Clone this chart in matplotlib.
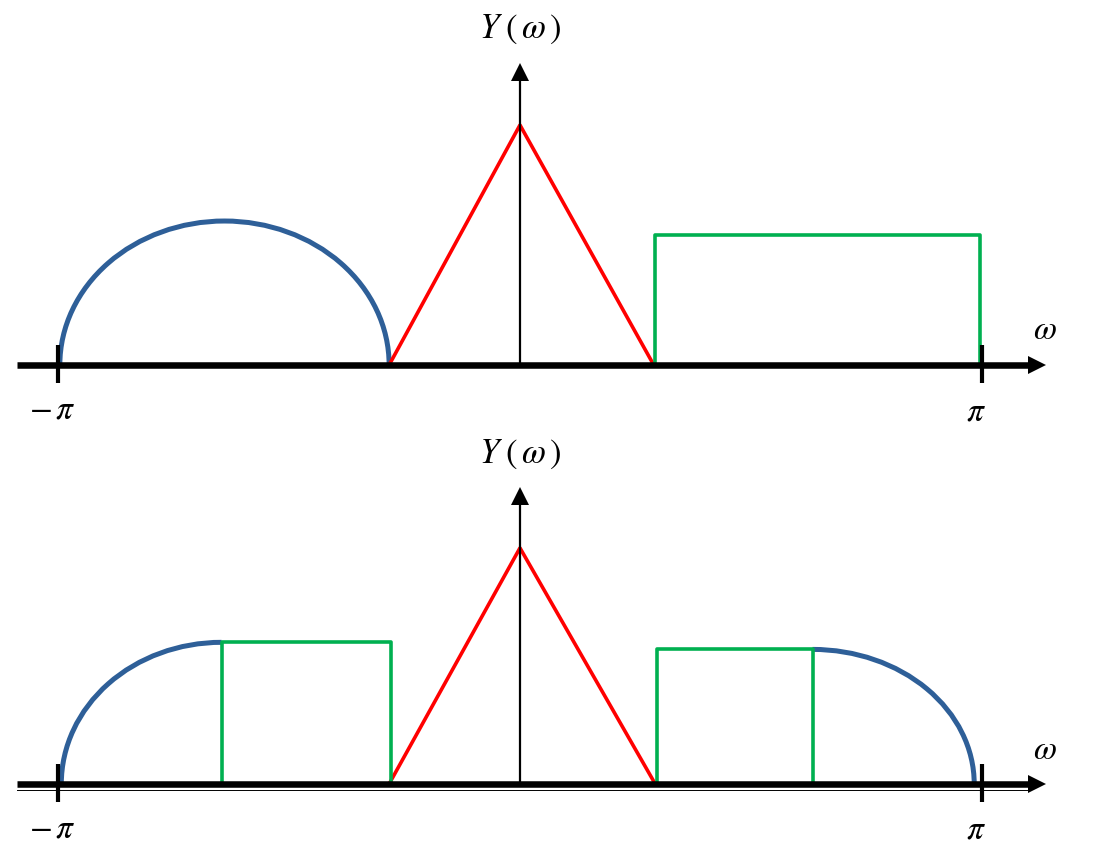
import numpy as np
import matplotlib
matplotlib.use("Agg")
import matplotlib.pyplot as plt
from matplotlib.patches import Arc

plt.rcParams['mathtext.fontset'] = 'stix'

# ---- data (omega in rad, amplitude relative to triangle peak) ----
# top spectrum
top_tri_x = [-0.89, 0.0, 0.91]
top_tri_y = [0.0, 1.0, 0.0]
top_rect_x = [0.92, 0.92, 3.13, 3.13, 0.92]
top_rect_y = [0.0, 0.54, 0.54, 0.0, 0.0]
top_arc_center = -2.01
top_arc_halfwidth = 1.12
top_arc_height = 0.60

# bottom spectrum (aliased)
bot_tri_x = [-0.89, 0.0, 0.92]
bot_tri_y = [0.0, 1.0, 0.0]
bot_rect_left_x = [-2.03, -2.03, -0.88, -0.88]
bot_rect_left_y = [0.0, 0.60, 0.60, 0.0]
bot_rect_right_x = [0.93, 0.93, 1.99, 1.99]
bot_rect_right_y = [0.0, 0.57, 0.57, 0.0]
bot_arc_left = (-2.03, 1.09, 0.60)    # center, half width, height
bot_arc_right = (1.99, 1.10, 0.57)

BLUE = '#2e5f98'
RED = '#ff0000'
GREEN = '#00b050'

fig = plt.figure(figsize=(10.93, 8.5), dpi=100)
ax_top = fig.add_axes([0, 0.5, 1, 0.5])
ax_bot = fig.add_axes([0, 0.0, 1, 0.5])
ax_top.set_ylim(-0.25, 1.521)
ax_bot.set_ylim(-0.28, 1.521)


def draw_axes(ax, ypx):
    # ypx: pixels per unit amplitude, keeps marks sized in pixels
    ax.set_xlim(-3.537, 3.898)
    ax.axis('off')
    # omega axis
    ax.plot([-3.42, 3.50], [0, 0], color='k', lw=4.7, solid_capstyle='butt', zorder=5)
    ax.plot([3.52], [0], marker='>', ms=13, color='k', mew=0, zorder=6)
    # ticks at +-pi
    for t in (-np.pi, np.pi):
        ax.plot([t, t], [-18 / ypx, 20 / ypx], color='k', lw=3, solid_capstyle='butt', zorder=6)
    # Y axis
    ax.plot([0, 0], [0, 1.20], color='k', lw=1.6, zorder=4)
    ax.plot([0], [1.22], marker='^', ms=13, color='k', mew=0, zorder=6)
    ax.text(0, 1.40, r'$Y\;\left(\,\omega\,\right)$', ha='center', va='center', fontsize=25)
    ax.text(3.57, 0.146, r'$\omega$', ha='center', va='center', fontsize=24)
    ax.text(-3.18, -0.185, r'$-\,\pi$', ha='center', va='center', fontsize=24)
    ax.text(3.10, -0.19, r'$\pi$', ha='center', va='center', fontsize=24)


draw_axes(ax_top, 240)
draw_axes(ax_bot, 236)

# top panel
ax_top.add_patch(Arc((top_arc_center, 0), 2 * top_arc_halfwidth, 2 * top_arc_height,
                     theta1=0, theta2=180, color=BLUE, lw=3.6, zorder=3))
ax_top.plot(top_tri_x, top_tri_y, color=RED, lw=2.6, zorder=3)
ax_top.plot(top_rect_x, top_rect_y, color=GREEN, lw=2.6, zorder=3)

# bottom panel
c, hw, h = bot_arc_left
ax_bot.add_patch(Arc((c, 0), 2 * hw, 2 * h, theta1=90, theta2=180, color=BLUE, lw=3.6, zorder=3))
c, hw, h = bot_arc_right
ax_bot.add_patch(Arc((c, 0), 2 * hw, 2 * h, theta1=0, theta2=90, color=BLUE, lw=3.6, zorder=3))
ax_bot.plot(bot_tri_x, bot_tri_y, color=RED, lw=2.6, zorder=3)
ax_bot.plot(bot_rect_left_x, bot_rect_left_y, color=GREEN, lw=2.6, zorder=3)
ax_bot.plot(bot_rect_right_x, bot_rect_right_y, color=GREEN, lw=2.6, zorder=3)
# faint second line under the bottom axis
ax_bot.plot([-3.42, 3.45], [-0.026, -0.026], color='k', lw=0.7, zorder=4)

fig.savefig('out.png', dpi=100)
